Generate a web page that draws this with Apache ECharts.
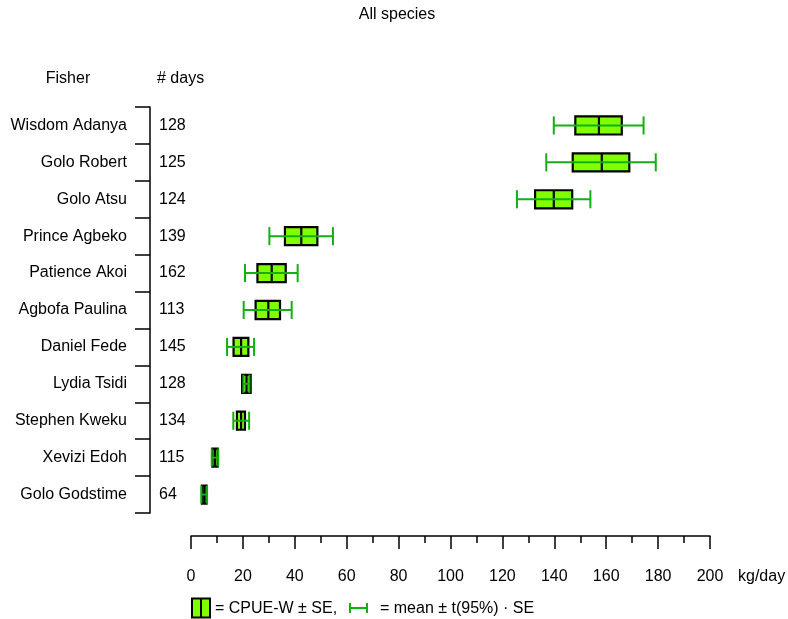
<!DOCTYPE html>
<html>
<head>
<meta charset="utf-8">
<script src="https://cdn.jsdelivr.net/npm/echarts@6/dist/echarts.min.js"></script>
<style>
html,body{margin:0;padding:0;background:#fff;}
#chart{width:788px;height:619px;}
</style>
</head>
<body>
<div id="chart"></div>
<script>
var fishers = ['Wisdom Adanya','Golo Robert','Golo Atsu','Prince Agbeko','Patience Akoi','Agbofa Paulina','Daniel Fede','Lydia Tsidi','Stephen Kweku','Xevizi Edoh','Golo Godstime'];
var days = [128,125,124,139,162,113,145,128,134,115,64];
var ciLow  = [139.8,136.9,125.6,30.2,20.8,20.3,13.9,20.2,16.3,8.0,4.0];
var seLow  = [148.1,147.1,132.6,36.2,25.6,24.9,16.4,19.7,17.7,8.2,4.2];
var cpue   = [157.2,158.3,139.8,42.5,31.1,29.8,19.3,21.4,19.3,9.2,5.1];
var seHigh = [166.0,168.9,146.9,48.7,36.5,34.3,22.1,23.0,20.8,10.3,6.0];
var ciHigh = [174.4,179.1,153.9,54.7,41.1,38.8,24.3,22.5,22.4,10.5,6.2];
var xTicks = [0,20,40,60,80,100,120,140,160,180,200];

var FONT = '"Liberation Sans", Arial, sans-serif';
var FS = 16;
var BOXFILL = '#80ff00';
var WHISK = '#12b012';

var seriesData = fishers.map(function(f, i){
  return [i, ciLow[i], seLow[i], cpue[i], seHigh[i], ciHigh[i]];
});

function renderItem(params, api){
  var c = api.value(0);
  var pWL = api.coord([api.value(1), c]);
  var pBL = api.coord([api.value(2), c]);
  var pM  = api.coord([api.value(3), c]);
  var pBR = api.coord([api.value(4), c]);
  var pWR = api.coord([api.value(5), c]);
  var band = api.size([0, 1])[1];
  var bh = band * 0.49;
  var ch = band * 0.49;
  var y = pM[1];
  return {
    type: 'group',
    children: [
      {type:'rect', shape:{x:pBL[0], y:y-bh/2, width:pBR[0]-pBL[0], height:bh},
        style:{fill:BOXFILL, stroke:'#000', lineWidth:2.2}},
      {type:'line', shape:{x1:pM[0], y1:y-bh/2, x2:pM[0], y2:y+bh/2},
        style:{stroke:'#000', lineWidth:2.2}},
      {type:'line', shape:{x1:pWL[0], y1:y, x2:pWR[0], y2:y},
        style:{stroke:WHISK, lineWidth:2}},
      {type:'line', shape:{x1:pWL[0], y1:y-ch/2, x2:pWL[0], y2:y+ch/2},
        style:{stroke:WHISK, lineWidth:2}},
      {type:'line', shape:{x1:pWR[0], y1:y-ch/2, x2:pWR[0], y2:y+ch/2},
        style:{stroke:WHISK, lineWidth:2}}
    ]
  };
}

var chart = echarts.init(document.getElementById('chart'));
chart.setOption({
  animation: false,
  backgroundColor: '#fff',
  textStyle: {fontFamily: FONT},
  grid: {left:191, right:78, top:107, bottom:106, containLabel:false},
  xAxis: {
    type: 'value', min: 0, max: 200, interval: 20,
    position: 'bottom', offset: 23,
    axisLine: {show:true, onZero:false, lineStyle:{color:'#000', width:1.5}},
    axisTick: {show:true, length:13, lineStyle:{color:'#000', width:1.5}},
    minorTick: {show:true, splitNumber:2, length:7, lineStyle:{color:'#000', width:1.5}},
    splitLine: {show:false},
    axisLabel: {margin:33, color:'#000', fontSize:FS, fontFamily:FONT,
      formatter: function(v){ return xTicks.indexOf(v) >= 0 ? String(v) : ''; }}
  },
  yAxis: [
    {
      type: 'category', data: fishers, inverse: true,
      position: 'left', offset: 41,
      axisLine: {show:true, onZero:false, lineStyle:{color:'#000', width:1.5}},
      axisTick: {show:true, length:15, lineStyle:{color:'#000', width:1.5}},
      axisLabel: {margin:23, padding:[4,0,0,0], color:'#000', fontSize:FS, fontFamily:FONT}
    },
    {
      type: 'category', data: days.map(String), inverse: true,
      position: 'left', offset: 41,
      axisLine: {show:false, onZero:false}, axisTick: {show:false},
      axisLabel: {inside:true, margin:9, padding:[4,0,0,0], color:'#000', fontSize:FS, fontFamily:FONT}
    }
  ],
  series: [{
    type: 'custom',
    renderItem: renderItem,
    encode: {x:[1,2,3,4,5], y:0},
    data: seriesData,
    clip: false
  }],
  graphic: [
    {type:'text', x:397, y:15, style:{text:'All species', textAlign:'center', textVerticalAlign:'middle', font:FS+'px '+FONT, fill:'#000'}},
    {type:'text', x:68, y:79, style:{text:'Fisher', textAlign:'center', textVerticalAlign:'middle', font:FS+'px '+FONT, fill:'#000'}},
    {type:'text', x:157, y:79, style:{text:'# days', textAlign:'left', textVerticalAlign:'middle', font:FS+'px '+FONT, fill:'#000'}},
    {type:'text', x:738, y:577, style:{text:'kg/day', textAlign:'left', textVerticalAlign:'middle', font:FS+'px '+FONT, fill:'#000'}},
    {type:'rect', shape:{x:192, y:598.5, width:18, height:19}, style:{fill:BOXFILL, stroke:'#000', lineWidth:2}},
    {type:'line', shape:{x1:201, y1:598.5, x2:201, y2:617.5}, style:{stroke:'#000', lineWidth:2}},
    {type:'text', x:215, y:609, style:{text:'= CPUE-W \u00b1 SE,', textAlign:'left', textVerticalAlign:'middle', font:FS+'px '+FONT, fill:'#000'}},
    {type:'line', shape:{x1:350, y1:608, x2:367, y2:608}, style:{stroke:WHISK, lineWidth:2}},
    {type:'line', shape:{x1:350, y1:603, x2:350, y2:613}, style:{stroke:WHISK, lineWidth:2}},
    {type:'line', shape:{x1:367, y1:603, x2:367, y2:613}, style:{stroke:WHISK, lineWidth:2}},
    {type:'text', x:380, y:609, style:{text:'= mean \u00b1 t(95%) \u00b7 SE', textAlign:'left', textVerticalAlign:'middle', font:FS+'px '+FONT, fill:'#000'}}
  ]
});
</script>
</body>
</html>
